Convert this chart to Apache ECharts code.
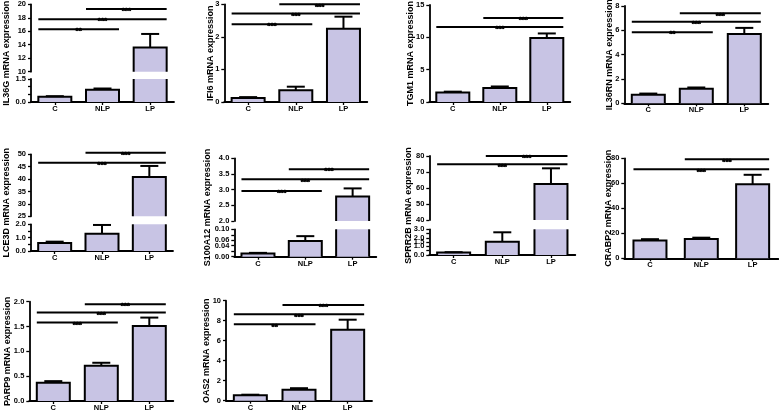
<!DOCTYPE html>
<html><head><meta charset="utf-8">
<script src="https://cdn.jsdelivr.net/npm/echarts@6/dist/echarts.min.js"></script>
<style>html,body{margin:0;padding:0;background:#fff}#c{width:779px;height:411px}</style>
</head><body><div id="c"></div>
<script>
// ---------- DATA ----------
const categories = ['C', 'NLP', 'LP'];

const il36gMean = [0.35, 0.80, 13.6];
const il36gErr  = [0.38, 0.88, 15.6];
const il36gSig  = [[0, 1, 16.3, '**'], [0, 2, 17.8, '***'], [1, 2, 19.3, '***']];
const il36gLowerTicks = [0, 1.5, 0.5];
const il36gUpperTicks = [10, 20, 2];

const ifi6Mean = [0.12, 0.36, 2.25];
const ifi6Err  = [0.15, 0.47, 2.62];
const ifi6Sig  = [[0, 1, 2.39, '***'], [0, 2, 2.72, '***'], [1, 2, 3.0, '***']];
const ifi6Ticks = [0, 3, 1];

const tgm1Mean = [1.45, 2.15, 9.9];
const tgm1Err  = [1.6, 2.4, 10.6];
const tgm1Sig  = [[0, 2, 11.6, '***'], [1, 2, 13.0, '***']];
const tgm1Ticks = [0, 15, 5];

const il36rnMean = [0.7, 1.2, 5.7];
const il36rnErr  = [0.8, 1.3, 6.2];
const il36rnSig  = [[0, 1, 5.85, '**'], [0, 2, 6.7, '***'], [1, 2, 7.4, '***']];
const il36rnTicks = [0, 8, 2];

const lce3dMean = [0.6, 1.3, 40.8];
const lce3dErr  = [0.7, 1.95, 45.3];
const lce3dSig  = [[0, 2, 46.6, '***'], [1, 2, 50.6, '***']];
const lce3dLowerTicks = [0, 2, 0.5];
const lce3dUpperTicks = [25, 50, 5];

const s100a12Mean = [0.012, 0.057, 2.78];
const s100a12Err  = [0.014, 0.075, 3.04];
const s100a12Sig  = [[0, 1, 2.96, '***'], [0, 2, 3.33, '***'], [1, 2, 3.65, '***']];
const s100a12LowerTicks = [0, 0.1, 0.02];
const s100a12UpperTicks = [2, 4, 0.5];

const sprr2bMean = [0.3, 1.55, 62.5];
const sprr2bErr  = [0.33, 2.65, 72.3];
const sprr2bSig  = [[0, 2, 74.8, '***'], [1, 2, 80, '***']];
const sprr2bLowerTicks = [0, 3, 0.5];
const sprr2bUpperTicks = [40, 80, 10];

const crabp2Mean = [14.3, 15.5, 59.2];
const crabp2Err  = [15.3, 16.5, 66.8];
const crabp2Sig  = [[0, 2, 71.2, '***'], [1, 2, 79.2, '***']];
const crabp2Ticks = [0, 80, 20];

const parp9Mean = [0.37, 0.71, 1.51];
const parp9Err  = [0.40, 0.77, 1.68];
const parp9Sig  = [[0, 1, 1.58, '***'], [0, 2, 1.78, '***'], [1, 2, 1.95, '***']];
const parp9Ticks = [0, 2, 0.5];

const oas2Mean = [0.55, 1.1, 7.1];
const oas2Err  = [0.6, 1.25, 8.1];
const oas2Sig  = [[0, 1, 7.64, '**'], [0, 2, 8.64, '***'], [1, 2, 9.57, '***']];
const oas2Ticks = [0, 10, 2];

// ---------- LAYOUT / STYLE ----------
const FONT = '"Liberation Sans", Arial, sans-serif';
const INK = '#000';
const BAR_COLOR = '#c8c4e4';
const BAR_W = 33;
const CAP_W = 18;

const panels = [
  { name: 'IL36G mRNA expression', mean: il36gMean, err: il36gErr, sig: il36gSig, upper: il36gUpperTicks, lower: il36gLowerTicks,
    geo: { axisX: 31, width: 143, upper: [4.3, 71.7], lower: [79, 102], nameGap: 20 } },
  { name: 'IFI6 mRNA expression', mean: ifi6Mean, err: ifi6Err, sig: ifi6Sig, axis: ifi6Ticks,
    geo: { axisX: 224.3, width: 143, main: [4.3, 102], nameGap: 9 } },
  { name: 'TGM1 mRNA expression', mean: tgm1Mean, err: tgm1Err, sig: tgm1Sig, axis: tgm1Ticks,
    geo: { axisX: 429.3, width: 141, main: [5, 102], nameGap: 14 } },
  { name: 'IL36RN mRNA expression', mean: il36rnMean, err: il36rnErr, sig: il36rnSig, axis: il36rnTicks,
    geo: { axisX: 624.3, width: 144, main: [6, 103.3], nameGap: 10 } },
  { name: 'LCE3D mRNA expression', mean: lce3dMean, err: lce3dErr, sig: lce3dSig, upper: lce3dUpperTicks, lower: lce3dLowerTicks,
    geo: { axisX: 31, width: 142, upper: [154.3, 216.3], lower: [224.3, 251], nameGap: 20 } },
  { name: 'S100A12 mRNA expression', mean: s100a12Mean, err: s100a12Err, sig: s100a12Sig, upper: s100a12UpperTicks, lower: s100a12LowerTicks,
    geo: { axisX: 234.3, width: 142, upper: [158.3, 221], lower: [229.3, 256.7], nameGap: 22 } },
  { name: 'SPRR2B mRNA expression', mean: sprr2bMean, err: sprr2bErr, sig: sprr2bSig, upper: sprr2bUpperTicks, lower: sprr2bLowerTicks,
    geo: { axisX: 429.3, width: 146, upper: [156, 220], lower: [229.3, 255], nameGap: 16 } },
  { name: 'CRABP2 mRNA expression', mean: crabp2Mean, err: crabp2Err, sig: crabp2Sig, axis: crabp2Ticks,
    geo: { axisX: 624.3, width: 154, main: [158.3, 258.3], nameGap: 11 } },
  { name: 'PARP9 mRNA expression', mean: parp9Mean, err: parp9Err, sig: parp9Sig, axis: parp9Ticks,
    geo: { axisX: 29.3, width: 144, main: [301.7, 401], nameGap: 17 } },
  { name: 'OAS2 mRNA expression', mean: oas2Mean, err: oas2Err, sig: oas2Sig, axis: oas2Ticks,
    geo: { axisX: 226, width: 146, main: [300.7, 400.7], nameGap: 15 } }
];

const grids = [], xAxes = [], yAxes = [], series = [];

function decimals(step) { return step < 0.1 ? 2 : (step < 1 ? 1 : 0); }

function addGrid(left, top, width, height) {
  grids.push({ left, top, width, height, containLabel: false, outerBoundsMode: 'none' });
  return grids.length - 1;
}

function barRender(params, api) {
  const cs = params.coordSys;
  const i = api.value(0), v = api.value(1);
  const c = api.coord([i, v]);
  const b = api.coord([i, 0]);
  const x0 = c[0] - BAR_W / 2, x1 = c[0] + BAR_W / 2;
  const top = Math.max(cs.y, c[1]);
  const base = Math.min(cs.y + cs.height, b[1]);
  if (top >= base) return null;
  const clippedTop = c[1] < cs.y;
  const children = [{ type: 'rect', shape: { x: x0, y: top, width: BAR_W, height: base - top }, style: { fill: BAR_COLOR } }];
  const st = { stroke: INK, lineWidth: 2, fill: null, lineJoin: 'miter' };
  if (clippedTop) {
    children.push({ type: 'line', shape: { x1: x0, y1: base, x2: x0, y2: top }, style: st });
    children.push({ type: 'line', shape: { x1: x1, y1: base, x2: x1, y2: top }, style: st });
  } else {
    children.push({ type: 'polyline', shape: { points: [[x0, base], [x0, top], [x1, top], [x1, base]] }, style: st });
  }
  return { type: 'group', children };
}

function errRender(params, api) {
  const cs = params.coordSys;
  const i = api.value(0);
  const m = api.coord([i, api.value(1)]);
  const e = api.coord([i, api.value(2)]);
  if (e[1] < cs.y - 0.5 || e[1] > cs.y + cs.height + 0.5) return null;
  const my = Math.min(m[1], cs.y + cs.height);
  const st = { stroke: INK, lineWidth: 2 };
  return { type: 'group', children: [
    { type: 'line', shape: { x1: e[0], y1: my, x2: e[0], y2: e[1] }, style: st },
    { type: 'line', shape: { x1: e[0] - CAP_W / 2, y1: e[1], x2: e[0] + CAP_W / 2, y2: e[1] }, style: st }
  ] };
}

function makeSigRender(sig) {
  return function (params, api) {
    const p1 = api.coord([api.value(0), api.value(2)]);
    const p2 = api.coord([api.value(1), api.value(2)]);
    const xa = p1[0] - BAR_W / 2, xb = p2[0] + BAR_W / 2;
    return { type: 'group', children: [
      { type: 'line', shape: { x1: xa, y1: p1[1], x2: xb, y2: p1[1] }, style: { stroke: INK, lineWidth: 2 } },
      { type: 'text', style: { x: (xa + xb) / 2, y: p1[1] + 2, text: sig[params.dataIndex][3], fill: INK,
          stroke: INK, lineWidth: 0.6,
          font: 'bold 8px ' + FONT, align: 'center', verticalAlign: 'middle' } }
    ] };
  };
}

const yLabelStyle = d => ({
  show: true, color: INK, fontFamily: FONT, fontWeight: 'bold', fontSize: 7.5, margin: 5,
  showMinLabel: true, showMaxLabel: true, hideOverlap: false,
  formatter: v => Number(v).toFixed(d)
});

panels.forEach(p => {
  const g = p.geo;
  const segs = p.upper
    ? [{ ticks: p.upper, px: g.upper, bottom: false, sig: true }, { ticks: p.lower, px: g.lower, bottom: true, sig: false }]
    : [{ ticks: p.axis, px: g.main, bottom: true, sig: true }];
  segs.forEach(seg => {
    const h = seg.px[1] - seg.px[0];
    const d = decimals(seg.ticks[2]);
    // plotting grid: axis lines, ticks, category labels and marks
    const gi = addGrid(g.axisX, seg.px[0], g.width, h);
    const xi = xAxes.length;
    xAxes.push({
      type: 'category', gridIndex: gi, data: categories, show: seg.bottom, boundaryGap: true,
      axisLine: { show: true, onZero: false, lineStyle: { color: INK, width: 1.8 } },
      axisTick: { show: true, alignWithLabel: true, length: 3, lineStyle: { color: INK, width: 1.3 } },
      axisLabel: { color: INK, fontFamily: FONT, fontWeight: 'bold', fontSize: 7.5, margin: 3 }
    });
    const yi = yAxes.length;
    yAxes.push({
      type: 'value', gridIndex: gi, min: seg.ticks[0], max: seg.ticks[1], interval: seg.ticks[2],
      axisLine: { show: true, onZero: false, lineStyle: { color: INK, width: 1.8 } },
      axisTick: { show: true, length: 3, lineStyle: { color: INK, width: 1.3 } },
      splitLine: { show: false },
      axisLabel: { show: false }
    });
    // twin grid carrying only the value labels of the same axis range
    const ti = addGrid(g.axisX, seg.px[0], g.width, h);
    xAxes.push({ type: 'category', gridIndex: ti, data: categories, show: false });
    yAxes.push({
      type: 'value', gridIndex: ti, min: seg.ticks[0], max: seg.ticks[1], interval: seg.ticks[2],
      axisLine: { show: false }, axisTick: { show: false }, splitLine: { show: false },
      axisLabel: yLabelStyle(d)
    });
    const common = { type: 'custom', xAxisIndex: xi, yAxisIndex: yi, silent: true, animation: false };
    series.push(Object.assign({}, common, {
      renderItem: barRender, encode: { x: 0, y: 1 },
      data: p.mean.map((v, i) => [i, v])
    }));
    series.push(Object.assign({}, common, {
      renderItem: errRender, encode: { x: 0, y: [1, 2] },
      data: p.mean.map((v, i) => [i, v, p.err[i]])
    }));
    if (seg.sig) {
      series.push(Object.assign({}, common, {
        renderItem: makeSigRender(p.sig), encode: { x: [0, 1], y: 2 },
        data: p.sig.map(s => [s[0], s[1], s[2]])
      }));
    }
  });
  // name-only axis spanning the full panel height
  const top = p.upper ? g.upper[0] : g.main[0];
  const bot = p.upper ? g.lower[1] : g.main[1];
  const ni = addGrid(g.axisX, top, g.width, bot - top);
  xAxes.push({ type: 'category', gridIndex: ni, data: categories, show: false });
  yAxes.push({
    type: 'value', gridIndex: ni, min: 0, max: 1, show: true,
    axisLine: { show: false }, axisTick: { show: false }, axisLabel: { show: false }, splitLine: { show: false },
    name: p.name, nameLocation: 'middle', nameGap: g.nameGap,
    nameTextStyle: { color: INK, fontFamily: FONT, fontWeight: 'bold', fontSize: 9 }
  });
});

const chart = echarts.init(document.getElementById('c'), null, { renderer: 'canvas', width: 779, height: 411 });
chart.setOption({ animation: false, backgroundColor: '#fff', grid: grids, xAxis: xAxes, yAxis: yAxes, series });
</script>
</body></html>
